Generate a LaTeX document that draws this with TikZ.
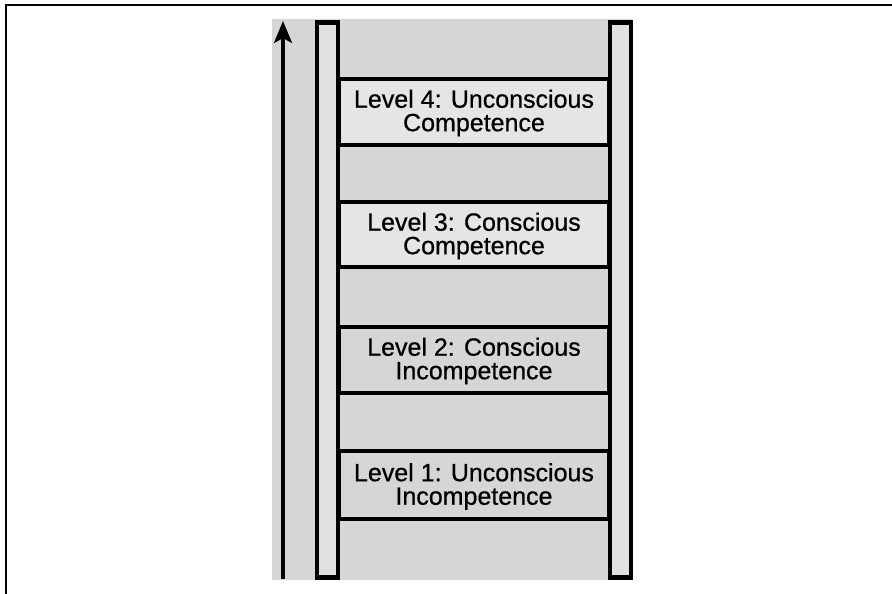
\documentclass[tikz,border=0pt]{standalone}
\usepackage{fontspec}
\setmainfont{Liberation Sans}
\newfontfamily\medfont[FakeBold=0.7]{Liberation Sans}
\usetikzlibrary{arrows.meta}
\definecolor{bggray}{gray}{0.84}
\definecolor{railgray}{gray}{0.88}
\definecolor{lightrung}{gray}{0.90}
\definecolor{darkrung}{gray}{0.84}
\tikzset{
  rail/.style={draw=black, line width=4.5pt, fill=railgray, minimum width=21pt, minimum height=555pt, inner sep=0pt},
  rungbox/.style={draw=black, line width=3.5pt, minimum width=270pt, inner sep=0pt},
  leveltext/.style={align=center, font=\medfont\fontsize{25}{23.5}\selectfont, inner sep=0pt},
  frameline/.style={line width=1.8pt, black},
  climb/.style={line width=3.6pt, -{Stealth[length=22pt, width=18pt, inset=5pt]}}
}
\begin{document}
\begin{tikzpicture}[x=1pt, y=-1pt]
\useasboundingbox (0,0) rectangle (892,594);
% outer frame (top and left visible)
\coordinate (ftl) at (6,5);
\coordinate (ftr) at (892,5);
\coordinate (fbl) at (6,594);
\draw[frameline] (ftr) -- (ftl) -- (fbl);
% gray background
\fill[bggray] (272,19) rectangle (632,580);
% rungs
\node[rungbox, fill=lightrung, minimum height=66pt] (r4) at (474,112) {};
\node[rungbox, fill=lightrung, minimum height=65pt] (r3) at (474,234.5) {};
\node[rungbox, fill=darkrung, minimum height=66pt] (r2) at (474,360) {};
\node[rungbox, fill=darkrung, minimum height=68pt] (r1) at (474,485) {};
% rails
\node[rail] (lrail) at (327.5,300) {};
\node[rail] (rrail) at (620.5,300) {};
% texts
\node[leveltext] (t4) at (474,113) {Level 4: Unconscious\\Competence};
\node[leveltext] (t3) at (474,236) {Level 3: Conscious\\Competence};
\node[leveltext] (t2) at (474,361) {Level 2: Conscious\\Incompetence};
\node[leveltext] (t1) at (474,486.5) {Level 1: Unconscious\\Incompetence};
% arrow
\coordinate (abot) at (283,579);
\coordinate (atop) at (283,21);
\draw[climb] (abot) -- (atop);
\end{tikzpicture}
\end{document}
